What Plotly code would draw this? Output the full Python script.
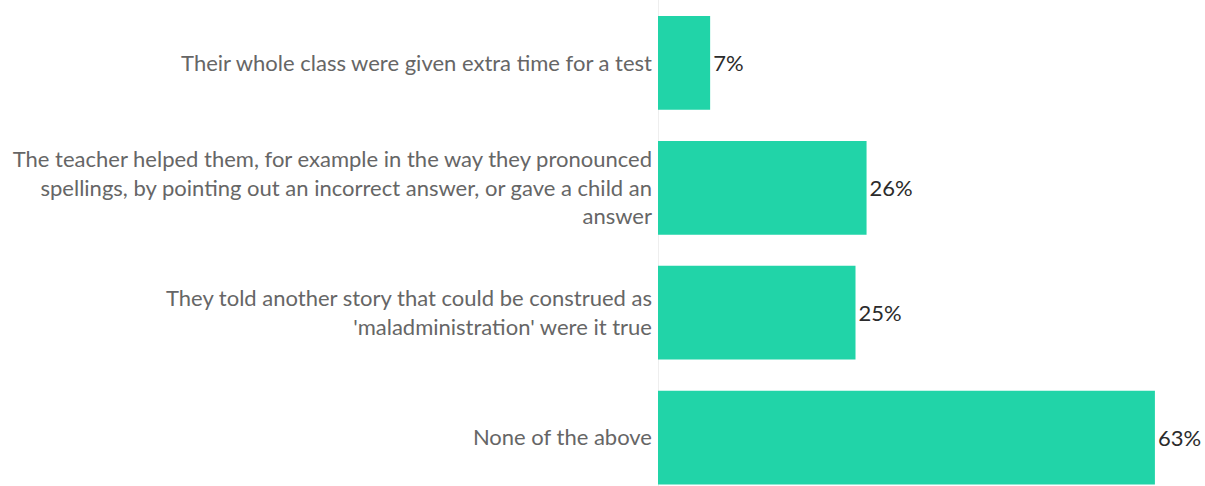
import plotly.graph_objects as go

categories = [
    "Their whole class were given extra time for a test",
    "The teacher helped them, for example in the way they pronounced<br>spellings, by pointing out an incorrect answer, or gave a child an<br>answer",
    "They told another story that could be construed as<br>'maladministration' were it true",
    "None of the above",
]
values = [6.6, 26.4, 25.0, 62.9]
labels = ["7%", "26%", "25%", "63%"]

W, H = 1205, 486

fig = go.Figure(
    go.Bar(
        x=values,
        y=categories,
        orientation="h",
        width=0.75,
        marker=dict(color="#21D4A8", line=dict(width=0)),
        text=labels,
        textposition="outside",
        constraintext="none",
        textfont=dict(family="Lato", size=22, color="#2b2b2b"),
        cliponaxis=False,
        hoverinfo="skip",
    )
)

fig.update_layout(
    width=W,
    height=H,
    margin=dict(l=658, r=0, t=0, b=0),
    paper_bgcolor="white",
    plot_bgcolor="white",
    showlegend=False,
    font=dict(family="Lato", size=22, color="#666666"),
    xaxis=dict(
        range=[0, (W - 658) / 7.9],
        showgrid=False,
        showticklabels=False,
        zeroline=True,
        zerolinecolor="#eeeeee",
        zerolinewidth=1,
        fixedrange=True,
    ),
    yaxis=dict(
        range=[3 + (H - 437.5) / 125, -63 / 125],
        showgrid=False,
        zeroline=False,
        showline=False,
        ticks="",
        ticklabelstandoff=5,
        tickfont=dict(family="Lato", size=22, color="#666666"),
        fixedrange=True,
    ),
)

fig.write_html(
    "out.html",
    config={"displayModeBar": False, "staticPlot": True},
    post_script="document.body.style.margin='0px';document.body.style.overflow='hidden';",
)
